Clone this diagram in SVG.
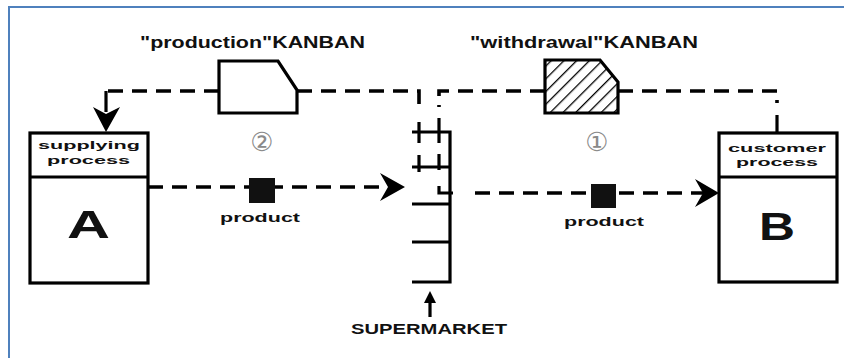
<svg xmlns="http://www.w3.org/2000/svg" width="844" height="358" viewBox="0 0 844 358">
<style>
.bx{fill:#fff;stroke:#000;stroke-width:3.2}
.ln{fill:none;stroke:#000;stroke-width:3.2}
.dash{fill:none;stroke:#000;stroke-width:3.6;stroke-dasharray:15 9}
.t{font-family:"Liberation Sans",Arial,sans-serif;font-weight:bold;fill:#111}
.num{font-family:"DejaVu Sans","Noto Sans CJK JP",sans-serif;fill:#8a8a8a;font-size:26px;text-anchor:middle}
.ah{fill:#000}
</style>
<defs>
<pattern id="hatch" width="9" height="9" patternUnits="userSpaceOnUse" patternTransform="rotate(45)">
<rect width="9" height="9" fill="#fff"/>
<line x1="0" y1="0" x2="0" y2="9" stroke="#000" stroke-width="2.6"/>
</pattern>
</defs>
<rect width="844" height="358" fill="#fff"/>
<rect id="frame" x="9" y="7" width="900" height="400" fill="none" stroke="#4f81bd" stroke-width="2"/>

<g id="label-production">
<text class="t" x="140" y="48" font-size="16" textLength="225" lengthAdjust="spacingAndGlyphs">"production"KANBAN</text>
</g>
<g id="label-withdrawal">
<text class="t" x="470" y="48" font-size="16" textLength="228" lengthAdjust="spacingAndGlyphs">"withdrawal"KANBAN</text>
</g>

<g id="connectors">
<path class="dash" d="M219,91 H106"/>
<path class="ln" d="M106,91 V112"/>
<polygon class="ah" points="106,132 93,107 106,114 120,107"/>
<path class="dash" d="M297,91 H419 V113"/>
<path class="ln" d="M419,122 V143 M419,155 V172"/>
<path class="dash" d="M545,91 H439 V107"/>
<path class="ln" d="M439,118 V143 M439,154 V170"/>
<path class="dash" d="M618,91 H777 V103"/>
<path class="ln" d="M777,115 V133"/>
<path class="dash" d="M148,187 H390" stroke-dasharray="18 10"/>
<polygon class="ah" points="405,187 380,173 388,187 380,201"/>
<path class="ln" d="M439,186 V193 H453"/>
<path class="dash" d="M475,193 H704" stroke-dasharray="24 10"/>
<polygon class="ah" points="719,193 695,179 703,193 695,207"/>
<path class="ln" d="M430,317 V298" stroke-width="2.6"/>
<polygon class="ah" points="430,291 424,303 436,303"/>
</g>

<g id="supplying-process">
<rect class="bx" x="30" y="133" width="118" height="150"/>
<line class="ln" x1="30" y1="177" x2="148" y2="177"/>
<text class="t" x="38" y="149" font-size="11.5" textLength="102" lengthAdjust="spacingAndGlyphs">supplying</text>
<text class="t" x="47" y="164" font-size="11.5" textLength="83" lengthAdjust="spacingAndGlyphs">process</text>
<text class="t" x="67" y="238" font-size="39" textLength="43" lengthAdjust="spacingAndGlyphs">A</text>
</g>

<g id="customer-process">
<rect class="bx" x="719" y="133" width="118" height="149"/>
<line class="ln" x1="719" y1="177" x2="837" y2="177"/>
<text class="t" x="728" y="152" font-size="11.5" textLength="98" lengthAdjust="spacingAndGlyphs">customer</text>
<text class="t" x="736" y="166" font-size="11.5" textLength="82" lengthAdjust="spacingAndGlyphs">process</text>
<text class="t" x="759" y="240" font-size="38" textLength="36" lengthAdjust="spacingAndGlyphs">B</text>
</g>

<g id="production-kanban">
<path class="bx" d="M219,61 H278 L297,90 V113 H219 Z"/>
<text class="num" x="262" y="151">②</text>
</g>

<g id="withdrawal-kanban">
<path class="bx" d="M545,60 H600 L618,82 V113 H545 Z" style="fill:url(#hatch)"/>
<text class="num" x="597" y="151">①</text>
</g>

<g id="supermarket">
<path class="ln" d="M412,132 H450 V282 H412 M412,167 H450 M412,204 H450 M412,242 H450"/>
<text class="t" x="351" y="334" font-size="14" textLength="156" lengthAdjust="spacingAndGlyphs">SUPERMARKET</text>
</g>

<g id="product-left">
<rect x="249" y="178" width="26" height="25" fill="#111"/>
<text class="t" x="220" y="222" font-size="13" textLength="80" lengthAdjust="spacingAndGlyphs">product</text>
</g>
<g id="product-right">
<rect x="591" y="184" width="25" height="24" fill="#111"/>
<text class="t" x="564" y="226" font-size="13" textLength="80" lengthAdjust="spacingAndGlyphs">product</text>
</g>
</svg>
